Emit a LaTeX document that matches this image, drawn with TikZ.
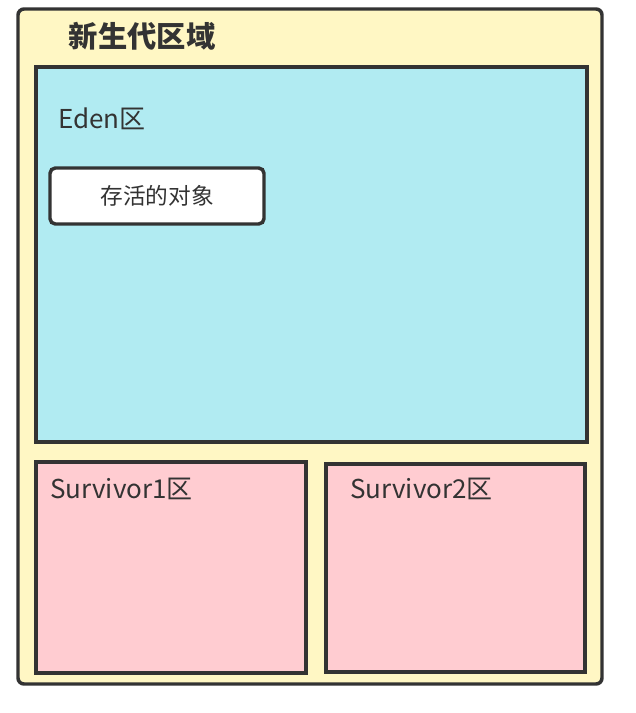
\documentclass[tikz,border=0pt]{standalone}
\usepackage{fontspec}
\setmainfont{Noto Sans CJK SC}
\usetikzlibrary{positioning}
\definecolor{young}{HTML}{FFF7C4}
\definecolor{eden}{HTML}{B1EBF2}
\definecolor{surv}{HTML}{FFCCD1}
\definecolor{ink}{HTML}{333333}
\tikzset{
  region/.style={draw=ink,line width=2.6pt},
  label/.style={text=ink,inner sep=0pt,anchor=base west,font=\fontsize{19.5}{21}\selectfont}
}

\begin{document}
\begin{tikzpicture}[x=0.75pt,y=-0.75pt]
    \useasboundingbox (0,0) rectangle (635,713);
    % outer young area
    \draw[region,fill=young,rounded corners=4.5pt] (18,9) rectangle (602,684);
    \node[text=ink,font=\fontsize{22}{24}\selectfont\bfseries] (young title) at (142,36) {新生代区域};
    % eden
    \draw[region,fill=eden] (36,67) rectangle (587,442);
    \node[label] (eden name) at (58,129) {Eden区};
    \node[region,fill=white,rounded corners=4pt,minimum width=160.5pt,minimum height=42pt,
      text=ink,font=\fontsize{17}{19}\selectfont] (alive) at (157,196) {存活的对象};
    % survivors
    \draw[region,fill=surv] (36,462) rectangle (306,673);
    \draw[region,fill=surv] (326,464) rectangle (585,672);
    \node[label] (surv one) at (50,498) {Survivor1区};
    \node[label] (surv two) at (350,498) {Survivor2区};
\end{tikzpicture}
\end{document}
